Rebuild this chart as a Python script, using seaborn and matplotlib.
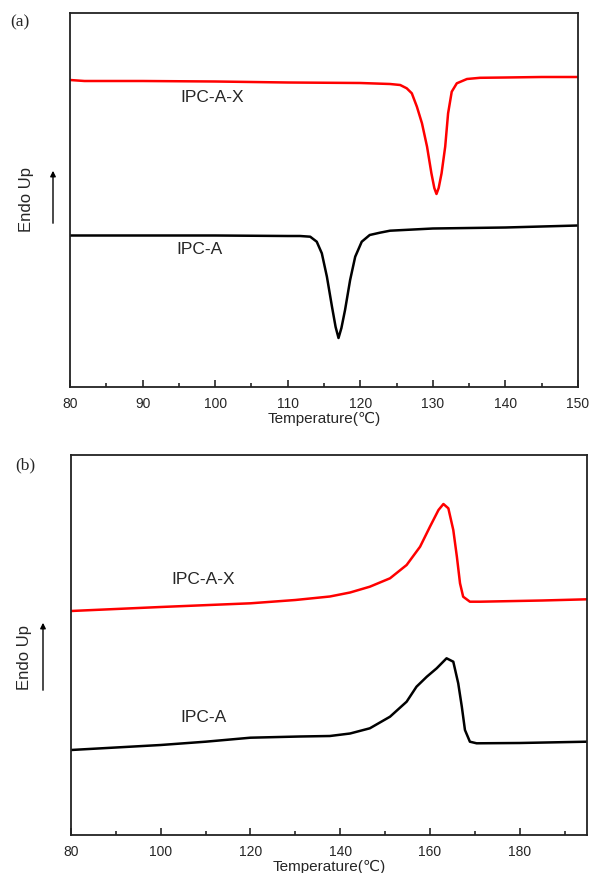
import matplotlib.pyplot as plt
import numpy as np
import pandas as pd
import seaborn as sns
from matplotlib.patches import FancyArrowPatch
from matplotlib.ticker import MultipleLocator

sns.set_style("ticks")
plt.rcParams["font.family"] = ["Liberation Sans", "DejaVu Sans"]

# (a) cooling curves, heat flow in arbitrary units
a_x_T = [80, 82, 90, 100, 110, 120, 124.1, 125.5, 126.4, 127.1, 127.8, 128.5, 129.2,
         129.8, 130.2, 130.5, 130.8, 131.2, 131.7, 132.1, 132.6, 133.3, 134.7, 136.5,
         140, 145, 150]
a_x_y = [307, 306, 306, 305.5, 304.5, 304, 303, 302, 298.7, 293.7, 280.3, 263.7, 240.3,
         213.7, 199, 193, 199, 213.7, 240.3, 273.7, 295.3, 303.7, 308, 309.2,
         309.5, 310, 310]
a_T = [80, 100, 110, 111.7, 113.1, 114.0, 114.7, 115.4, 116.1, 116.6, 117.0, 117.4,
       117.9, 118.6, 119.3, 120.2, 121.3, 122.7, 124.1, 130, 140, 150]
a_y = [151.5, 151.5, 151, 151, 150.3, 145.3, 133.7, 110.3, 80.3, 60, 49, 59,
       77, 107, 130.3, 145.3, 152, 154.3, 156.3, 158.5, 159.5, 161.5]

# (b) heating curves
b_x_T = [80, 100, 120, 130, 137.7, 142.2, 146.6, 151.1, 154.8, 157.8, 160.0, 161.9,
         163.0, 164.1, 165.2, 166.0, 166.7, 167.4, 168.9, 171.2, 185, 195]
b_x_y = [224, 228, 231.7, 235, 238.5, 242.5, 248.3, 256.7, 270, 288.3, 308.3, 325,
         331, 326.7, 305, 278.3, 251.7, 238.3, 233.3, 233.3, 234.5, 235.7]
b_T = [80, 100, 110, 120, 131, 137.7, 142.2, 146.6, 151.1, 154.8, 157.0, 159.3,
       161.5, 163.7, 165.2, 166.3, 167.1, 167.8, 168.9, 170.4, 180, 195]
b_y = [85, 90, 93.3, 97.3, 98.5, 99, 101.5, 106.7, 118.3, 133.3, 148.3, 158.3,
       166.7, 176.7, 173.3, 151.7, 128.3, 105, 93.3, 91.7, 92, 93.3]

fig = plt.figure(figsize=(5.9, 8.73), dpi=100)
ax1 = fig.add_axes([70/590, 1-387/873, 508/590, 374/873])
ax2 = fig.add_axes([71/590, 1-835/873, 516/590, 380/873])

def draw(ax, T1, y1, T2, y2, xlim, ylim, major, minor):
    sns.lineplot(x=T1, y=y1, ax=ax, color="red", linewidth=1.8, sort=False,
                 solid_joinstyle="round")
    sns.lineplot(x=T2, y=y2, ax=ax, color="black", linewidth=1.8, sort=False,
                 solid_joinstyle="round")
    ax.set_xlim(xlim)
    ax.set_ylim(ylim)
    ax.xaxis.set_major_locator(MultipleLocator(major))
    ax.xaxis.set_minor_locator(MultipleLocator(minor))
    ax.tick_params(axis="x", which="both", direction="in", top=False, labelsize=10, pad=7)
    ax.tick_params(axis="x", which="major", length=5, width=1.2)
    ax.tick_params(axis="x", which="minor", length=3, width=1.2)
    ax.set_yticks([])
    for s in ax.spines.values():
        s.set_linewidth(1.3)
        s.set_color("#222222")
    ax.set_xlabel("Temperature(\u2103)", fontsize=11, labelpad=1)
    ax.set_ylabel("")

draw(ax1, a_x_T, a_x_y, a_T, a_y, (80, 150), (0, 374), 10, 5)
draw(ax2, b_x_T, b_x_y, b_T, b_y, (80, 195), (0, 380), 20, 10)

fig.text(212/590, 1-97/873, "IPC-A-X", ha="center", va="center", fontsize=12.5)
fig.text(200/590, 1-250/873, "IPC-A", ha="center", va="center", fontsize=12.5)
fig.text(203/590, 1-580/873, "IPC-A-X", ha="center", va="center", fontsize=12.5)
fig.text(204/590, 1-717/873, "IPC-A", ha="center", va="center", fontsize=12.5)

fig.text(20/590, 1-22/873, "(a)", family="Liberation Serif", fontsize=12.5, ha="center", va="center")
fig.text(25/590, 1-465/873, "(b)", family="Liberation Serif", fontsize=12.5, ha="center", va="center")

fig.text(26/590, 1-200/873, "Endo Up", rotation=90, ha="center", va="center", fontsize=12)
fig.text(25/590, 1-657/873, "Endo Up", rotation=90, ha="center", va="center", fontsize=12)

for x, y0, y1 in [(53, 226, 168), (43, 693, 620)]:
    fig.add_artist(FancyArrowPatch(
        (x/590, 1-y0/873), (x/590, 1-y1/873), transform=fig.transFigure,
        arrowstyle="-|>", mutation_scale=8, color="black", linewidth=1))

fig.savefig("out.png", dpi=100)
